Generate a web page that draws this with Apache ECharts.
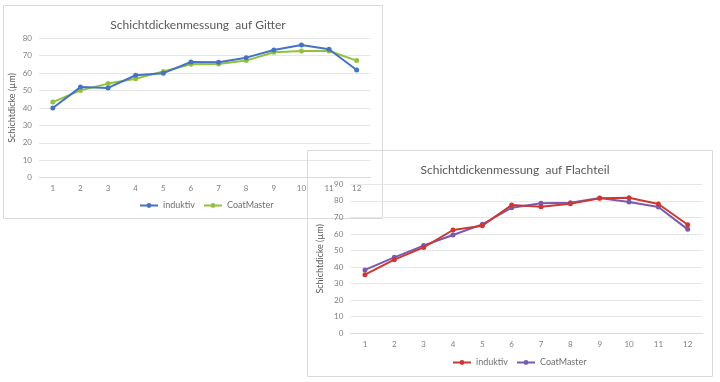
<!DOCTYPE html>
<html><head><meta charset="utf-8">
<script src="https://cdn.jsdelivr.net/npm/echarts@6/dist/echarts.min.js"></script>
<style>
html,body{margin:0;padding:0;background:#fff;}
.c{position:absolute;left:0;top:0;width:720px;height:382px;}
</style></head>
<body>
<div id="c1" class="c"></div>
<div id="c2" class="c"></div>
<script>
const categories = ['1','2','3','4','5','6','7','8','9','10','11','12'];
const title1 = 'Schichtdickenmessung  auf Gitter';
const title2 = 'Schichtdickenmessung  auf Flachteil';
const yName = 'Schichtdicke (µm)';
const seriesNames = ['induktiv', 'CoatMaster'];
const gitterInduktiv = [40, 52, 51.5, 58.8, 60, 66.4, 66.2, 68.9, 73.3, 76.2, 73.7, 61.8];
const gitterCoatMaster = [43.4, 50.1, 54, 56.8, 61, 65.1, 65.3, 67.2, 72, 72.7, 72.7, 67.2];
const flachInduktiv = [35.4, 44.5, 51.9, 62.4, 65, 77.5, 76.5, 78.3, 81.5, 81.9, 78.1, 65.6];
const flachCoatMaster = [38.3, 45.9, 53, 59.4, 65.8, 75.9, 78.5, 78.9, 81.7, 79.3, 76.3, 62.8];

const FONT = 'Lato, "Open Sans", sans-serif';
const GRAY = '#808080';

function makeOption(cfg) {
  return {
    animation: false,
    backgroundColor: 'transparent',
    textStyle: { fontFamily: FONT },
    title: {
      text: cfg.title, left: cfg.titleX, top: cfg.titleY, textAlign: 'center',
      textStyle: { fontFamily: FONT, fontSize: 12, fontWeight: 'normal', color: '#595959' }
    },
    graphic: [{
      type: 'rect', shape: cfg.frame, silent: true,
      style: { fill: 'none', stroke: '#d9d9d9', lineWidth: 1 }
    }],
    legend: {
      left: cfg.legendX, top: cfg.legendY, itemWidth: 18, itemHeight: 6, itemGap: 8, padding: 0,
      textStyle: { fontFamily: FONT, fontSize: 9, color: '#6f6f6f' },
      data: seriesNames
    },
    grid: cfg.grid,
    xAxis: {
      type: 'category', data: categories, boundaryGap: true,
      axisLine: { show: true, lineStyle: { color: '#d9d9d9' } },
      axisTick: { show: false },
      axisLabel: { color: GRAY, fontSize: 8, margin: 7, fontFamily: FONT }
    },
    yAxis: {
      type: 'value', min: 0, max: cfg.ymax, interval: 10,
      name: yName, nameLocation: 'middle', nameRotate: 90, nameGap: cfg.nameGap,
      nameTextStyle: { color: '#595959', fontSize: 9, fontFamily: FONT },
      axisLine: { show: false }, axisTick: { show: false },
      axisLabel: { color: GRAY, fontSize: 8, margin: 7, fontFamily: FONT },
      splitLine: { lineStyle: { color: '#e6e6e6' } }
    },
    series: [
      { name: seriesNames[0], type: 'line', data: cfg.d1, symbol: 'circle', symbolSize: 5,
        lineStyle: { width: 2, color: cfg.c1 }, itemStyle: { color: cfg.c1 }, z: 3 },
      { name: seriesNames[1], type: 'line', data: cfg.d2, symbol: 'circle', symbolSize: 5,
        lineStyle: { width: 2, color: cfg.c2 }, itemStyle: { color: cfg.c2 }, z: 2 }
    ]
  };
}

const ch1 = echarts.init(document.getElementById('c1'), null, { renderer: 'canvas' });
ch1.setOption(makeOption({
  title: title1, titleX: 193, titleY: 14,
  frame: { x: 3.5, y: 5.5, width: 379, height: 213 },
  legendX: 139, legendY: 201,
  grid: { left: 39, right: 349.5, top: 38.3, bottom: 204.3 },
  ymax: 80, nameGap: 22,
  d1: gitterInduktiv, d2: gitterCoatMaster, c1: '#4472C4', c2: '#92C13E'
}));

const ch2 = echarts.init(document.getElementById('c2'), null, { renderer: 'canvas' });
ch2.setOption(makeOption({
  title: title2, titleX: 510, titleY: 159,
  frame: { x: 307.5, y: 150.5, width: 405, height: 226 },
  legendX: 452, legendY: 358,
  grid: { left: 350.3, right: 17.6, top: 184.3, bottom: 48.7 },
  ymax: 90, nameGap: 26,
  d1: flachInduktiv, d2: flachCoatMaster, c1: '#CC3833', c2: '#7A5AAE'
}));
</script>
</body></html>
